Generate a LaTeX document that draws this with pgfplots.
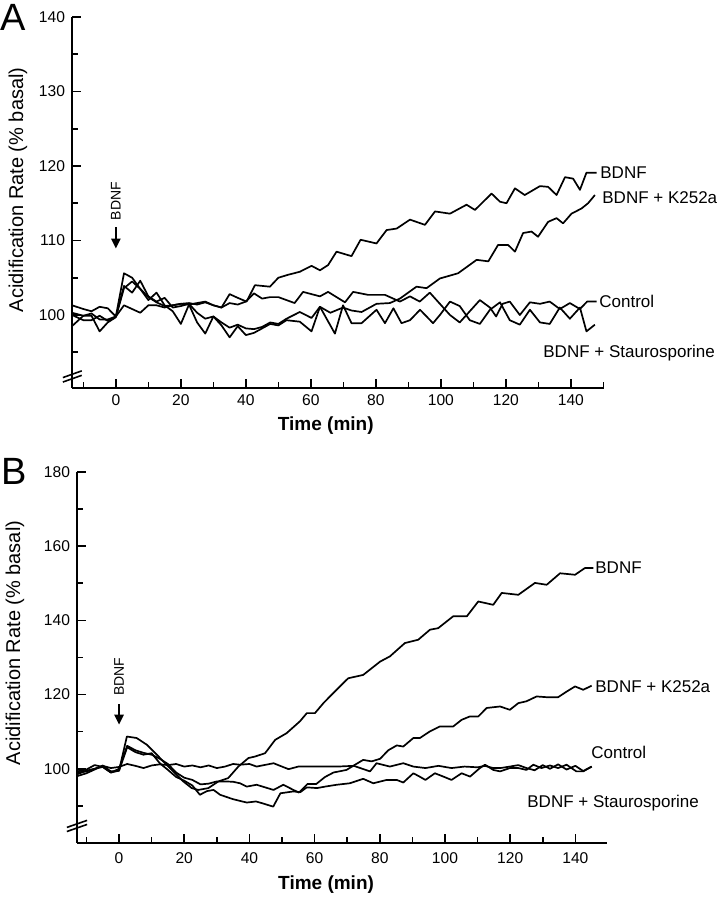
\documentclass[border=0pt]{standalone}
\usepackage{fontspec}
\setmainfont{Liberation Sans}
\usepackage{pgfplots}
\pgfplotsset{compat=1.18}
\usetikzlibrary{arrows.meta}
\begin{document}
\begin{tikzpicture}[x=1pt,y=1pt]
\useasboundingbox (0pt,0pt) rectangle (363pt,450pt);
\tikzset{curve/.style={black, line width=0.85pt, line join=round, mark=none}}
\pgfplotsset{
  myaxis/.style={
    scale only axis, anchor=south west,
    axis lines=left, axis line style={-, line width=0.8pt},
    tick align=inside, major tick length=4.5pt, minor tick length=3pt,
    every tick/.style={black, line width=0.8pt},
    tick label style={font=\fontsize{7.8}{9}\selectfont},
    /pgf/number format/assume math mode=true,
    clip=false,
  }
}
% ---------------- Panel A ----------------
\begin{axis}[myaxis, at={(36pt,256pt)}, width=266pt, height=185.5pt,
  xmin=-13.5, xmax=150.2, ymin=90.2, ymax=140,
  xtick={0,20,...,140}, minor xtick={-10,10,...,150},
  ytick={100,110,...,140}, minor ytick={95,105,...,135},
  xlabel={\bfseries Time (min)}, xlabel style={font=\fontsize{9.5}{11}\selectfont, at={(axis description cs:0.477,-0.102)}, anchor=center},
  ylabel={Acidification Rate (\% basal)}, ylabel style={font=\fontsize{10}{12}\selectfont, at={(axis description cs:-0.1015,0.534)}, anchor=center},
]
% BDNF
\addplot[curve] coordinates {(-13.5,101.3)(-10,100.8)(-7.5,100.5)(-5,101.1)(-2.5,100.9)(0,99.8)(2.5,105.6)(5,105.0)(7.5,103.5)(10,102.4)(12.5,101.7)(15,101.2)(17.5,101.3)(20,101.5)(22.5,101.6)(25,101.4)(27.5,101.7)(30,101.3)(32.5,101.0)(35,102.8)(37.5,102.3)(40.2,101.8)(42.8,104.0)(47.4,103.8)(50,105.0)(53,105.4)(56.6,105.8)(60.2,106.6)(62.8,106.0)(65.3,106.7)(67.9,108.5)(72.5,107.9)(75.3,110.1)(80.2,109.6)(83.3,111.4)(86.4,111.6)(90.5,112.8)(95.1,112.1)(98.2,113.9)(102.8,113.6)(107.9,114.8)(110.5,114.1)(115.6,116.3)(118.2,115.2)(120.2,115.0)(122.8,117.0)(125.8,116.1)(130.5,117.3)(133,117.2)(135.6,116.1)(138.2,118.5)(140.7,118.3)(142.8,116.8)(144.8,119.1)(147.9,119.1)};
% BDNF + K252a
\addplot[curve] coordinates {(-13.5,100.0)(-10,99.3)(-7.5,99.3)(-5,99.9)(-2.5,99.2)(0,99.8)(2.5,103.9)(5,103.0)(7.5,104.6)(10,102.5)(12.5,101.8)(15,102.3)(17.5,101.0)(20,101.2)(22.5,101.5)(25,100.3)(27.5,99.5)(30,99.8)(32.5,99.0)(35,98.3)(37.5,98.7)(40,98.2)(42.5,98.1)(45,98.4)(47.5,99.0)(50,98.8)(52.5,99.5)(56.6,100.4)(60.2,99.6)(62.8,101.1)(66,100.3)(69.9,101.0)(72.5,100.6)(75.6,100.4)(80.2,101.5)(84.3,101.6)(87.4,102.2)(92.5,103.8)(95.6,103.6)(99.7,104.9)(105.3,105.6)(111,107.4)(114.6,107.2)(117.6,109.4)(120.7,109.4)(122.8,108.5)(125.3,111.0)(127.9,111.2)(129.9,110.5)(133,112.5)(135.6,113.0)(137.6,112.3)(140.2,113.6)(143.3,114.3)(145.3,115.0)(147.4,116.1)};
% Control
\addplot[curve] coordinates {(-13.5,100.3)(-10,99.9)(-7.5,100.2)(-5,99.4)(-2.5,99.4)(0,99.8)(2.5,101.3)(5,100.8)(7.5,100.3)(10,101.3)(12.5,101.3)(15,101.0)(17.5,101.3)(20,101.5)(22.5,101.4)(25,101.6)(27.5,101.8)(30,101.3)(32.5,101.0)(35,101.6)(37.5,101.4)(40,101.8)(42.5,102.9)(45,102.2)(47.5,102.4)(50,102.4)(55,101.6)(57.6,103.1)(62.8,102.5)(65.3,103.1)(70.5,101.7)(73,103.1)(77.6,102.7)(82.8,102.7)(87.4,101.8)(90.5,102.5)(93.5,101.8)(96.6,103.0)(99.7,101.5)(102.8,100.0)(105.8,99.0)(108.9,100.5)(112,102.0)(115.1,101.0)(117,99.8)(119,101.5)(121.2,101.8)(124.3,100.0)(127.4,101.7)(130.5,101.5)(133.5,101.8)(136.6,100.8)(139.7,101.6)(142.8,100.8)(145,101.8)(147.9,101.8)};
% BDNF + Staurosporine
\addplot[curve] coordinates {(-13.5,98.5)(-10,99.9)(-7.5,99.9)(-5,97.8)(-2.5,99.0)(0,99.7)(2.5,103.6)(5,104.5)(7.5,103.5)(10,102.0)(12.5,103.0)(15,101.3)(17.5,100.5)(20,98.8)(22.5,101.4)(25,99.0)(27.5,97.5)(30,99.8)(32.5,98.6)(35,97.0)(37.5,98.5)(40,97.3)(42.5,97.6)(45,98.2)(47.5,98.8)(50,98.6)(52.5,99.3)(56.6,99.1)(60.2,97.8)(62.8,101.1)(67.4,97.5)(69.9,101.3)(72.5,98.9)(75.6,98.9)(80.2,100.7)(82.8,98.9)(85.4,100.9)(87.9,98.9)(90.5,99.3)(93.6,100.7)(97.6,98.9)(99.7,100.0)(102.8,101.8)(105.8,101.2)(108.9,99.3)(112,98.8)(115.1,100.7)(118.2,101.7)(121.2,99.3)(124.3,98.7)(127.4,100.7)(130.5,99.0)(133.5,98.8)(136.6,101.0)(139.7,99.5)(142.8,101.0)(144.8,97.8)(147.4,98.7)};
% axis break
\draw[line width=0.8pt] (axis cs:-16.3,91.0) -- (axis cs:-10.5,91.9);
\draw[line width=0.8pt] (axis cs:-16.3,91.6) -- (axis cs:-10.5,92.5);
% BDNF application arrow
\draw[line width=1.2pt, -{Triangle[length=5pt,width=4.5pt]}] (axis cs:0,111.8) -- (axis cs:0,108.9);
\node[rotate=90, font=\fontsize{7}{8}\selectfont, inner sep=0pt] at (axis cs:0,115.3) {BDNF};
\end{axis}
\node[font=\fontsize{19}{20}\selectfont, inner sep=0pt] at (6.5pt,441.5pt) {A};
\begin{scope}[every node/.style={font=\fontsize{8.5}{10}\selectfont, inner sep=0pt, anchor=base west}]
\node at (300pt,360.5pt) {BDNF};
\node at (301pt,348pt) {BDNF + K252a};
\node at (299.5pt,296pt) {Control};
\node at (271.5pt,271pt) {BDNF + Staurosporine};
\end{scope}
% ---------------- Panel B ----------------
\begin{axis}[myaxis, at={(38.5pt,28.5pt)}, width=265pt, height=185.5pt,
  xmin=-12.9, xmax=149.7, ymin=80, ymax=180,
  xtick={0,20,...,140}, minor xtick={-10,10,...,150},
  ytick={100,120,...,180}, minor ytick={90,110,...,170},
  xticklabel style={yshift=-1.5pt},
  xlabel={\bfseries Time (min)}, xlabel style={font=\fontsize{9.5}{11}\selectfont, at={(axis description cs:0.470,-0.113)}, anchor=center},
  ylabel={Acidification Rate (\% basal)}, ylabel style={font=\fontsize{10}{12}\selectfont, at={(axis description cs:-0.117,0.539)}, anchor=center},
]
% BDNF
\addplot[curve] coordinates {(-12.9,98.5)(-10,99.5)(-7.5,100.0)(-5,100.5)(-2.5,99.0)(0,99.5)(2.4,108.7)(5.4,108.3)(8.5,106.5)(11.6,103.8)(14.1,101.5)(17.2,98.8)(19.7,96.6)(22.3,94.8)(24.3,94.3)(27.4,94.8)(30.5,96.6)(33.5,97.5)(36.6,100.6)(39.7,102.9)(41.7,103.3)(44.8,104.2)(47.9,107.8)(51.4,109.6)(55.5,112.8)(57.6,115.0)(60.1,115.0)(62.7,117.7)(65.7,120.4)(70.3,124.4)(74.9,125.3)(80.1,128.9)(83.1,130.3)(87.7,133.9)(91.8,134.8)(95.4,137.5)(97.9,137.9)(102.5,141.1)(106.7,141.1)(110.2,145.1)(114.8,144.2)(117.4,147.4)(122.5,146.9)(127.6,150.1)(131.2,149.6)(135.3,152.7)(139.9,152.3)(142.9,154.1)(145.5,154.1)};
% BDNF + K252a
\addplot[curve] coordinates {(-12.9,99.3)(-10,99.8)(-7.5,101.0)(-5,100.5)(-2.5,99.0)(0,100.0)(2.5,106.2)(5,105.0)(7.5,104.3)(10,103.8)(12.5,102.7)(15,101.3)(17.5,99.0)(20,97.6)(22.5,97.0)(25,95.8)(27.5,96.0)(30,96.6)(32.5,96.6)(35,96.5)(37.1,96.1)(39.2,95.2)(42.2,95.7)(44.8,95.0)(47.4,94.3)(50.4,95.7)(53.5,94.3)(55.2,93.6)(57.8,95.9)(60.5,95.9)(63.2,97.8)(65.8,99.0)(69.8,99.7)(72.4,101.1)(74.9,102.4)(77.5,102.0)(80.1,102.7)(82.6,105.0)(85.2,106.3)(87.2,106.0)(90.3,108.3)(92.3,108.3)(95.4,110.1)(98.4,111.4)(102.5,111.4)(105.1,113.2)(107.6,114.1)(110.2,114.1)(112.8,116.4)(116.9,116.8)(119.9,115.9)(122.5,117.7)(125,118.2)(128.1,119.5)(131.2,119.3)(134.7,119.3)(137.3,120.8)(139.9,122.2)(142.4,121.3)(145,122.4)};
% Control
\addplot[curve] coordinates {(-12.9,99.0)(-10,99.3)(-7.5,100.0)(-5,100.8)(-2.5,100.2)(0,100.5)(2.5,101.3)(5,100.8)(7.5,100.2)(10,100.9)(12.5,101.2)(15,101.0)(17.5,101.3)(20,100.6)(22.5,100.9)(25,100.4)(27.5,100.9)(30,100.2)(32.5,100.6)(35,101.3)(37.1,101.1)(40,101.3)(42.2,100.6)(47.4,101.5)(52,99.9)(55,100.6)(61.6,100.6)(67,100.6)(72,100.8)(77,99.3)(79,101.5)(83.1,100.6)(87.2,101.5)(90.3,100.6)(94,100.2)(98,100.8)(102,100.2)(106,100.6)(110,100.4)(112.2,100.8)(114.8,100.2)(117,100.2)(119.9,100.6)(122.5,101.0)(125,100.2)(127.5,99.6)(130,101.0)(132.2,100.0)(134.7,101.2)(137.3,99.8)(140,100.8)(142.4,99.4)(145,100.6)};
% BDNF + Staurosporine
\addplot[curve] coordinates {(-12.9,98.0)(-10,98.8)(-7.5,99.8)(-5,100.9)(-2.5,99.3)(0,99.5)(2.5,105.8)(5,104.5)(7.5,103.8)(10,104.2)(12.5,101.5)(15,99.7)(17.5,97.8)(20,96.8)(22.5,95.5)(24.8,93.0)(27,94.0)(29,94.3)(31,93.0)(35,91.8)(39.2,90.9)(42,91.2)(44,90.7)(47.3,89.8)(49.5,93.4)(53.5,93.9)(55.6,93.7)(57.6,95.0)(60.7,94.8)(63.2,95.2)(66.8,95.7)(70.8,96.1)(74.9,97.3)(78,96.1)(82.1,97.0)(85.2,97.0)(87.2,96.3)(90.3,98.8)(92.2,97.9)(94,97.0)(96.9,98.8)(99.5,97.9)(102,97.0)(105.1,98.8)(107.7,97.9)(110.7,100.2)(112.3,101.1)(114.8,99.7)(116.9,99.3)(119.9,100.2)(122.5,100.2)(125,99.7)(127.1,101.1)(129.6,100.2)(132.2,100.9)(134.7,100.2)(137.3,101.1)(140.3,99.3)(142.4,99.3)(145,100.6)};
% axis break
\draw[line width=0.8pt] (axis cs:-16,83.1) -- (axis cs:-9.8,85.0);
\draw[line width=0.8pt] (axis cs:-16,84.2) -- (axis cs:-9.8,86.1);
% BDNF application arrow
\draw[line width=1.2pt, -{Triangle[length=5pt,width=4.5pt]}] (axis cs:0,117.4) -- (axis cs:0,111.9);
\node[rotate=90, font=\fontsize{7}{8}\selectfont, inner sep=0pt] at (axis cs:0,124.8) {BDNF};
\end{axis}
\node[font=\fontsize{19}{20}\selectfont, inner sep=0pt] at (7pt,214.5pt) {B};
\begin{scope}[every node/.style={font=\fontsize{8.5}{10}\selectfont, inner sep=0pt, anchor=base west}]
\node at (297.5pt,163pt) {BDNF};
\node at (297.5pt,103.5pt) {BDNF + K252a};
\node at (295.5pt,70.5pt) {Control};
\node at (263.5pt,46pt) {BDNF + Staurosporine};
\end{scope}
\end{tikzpicture}
\end{document}
